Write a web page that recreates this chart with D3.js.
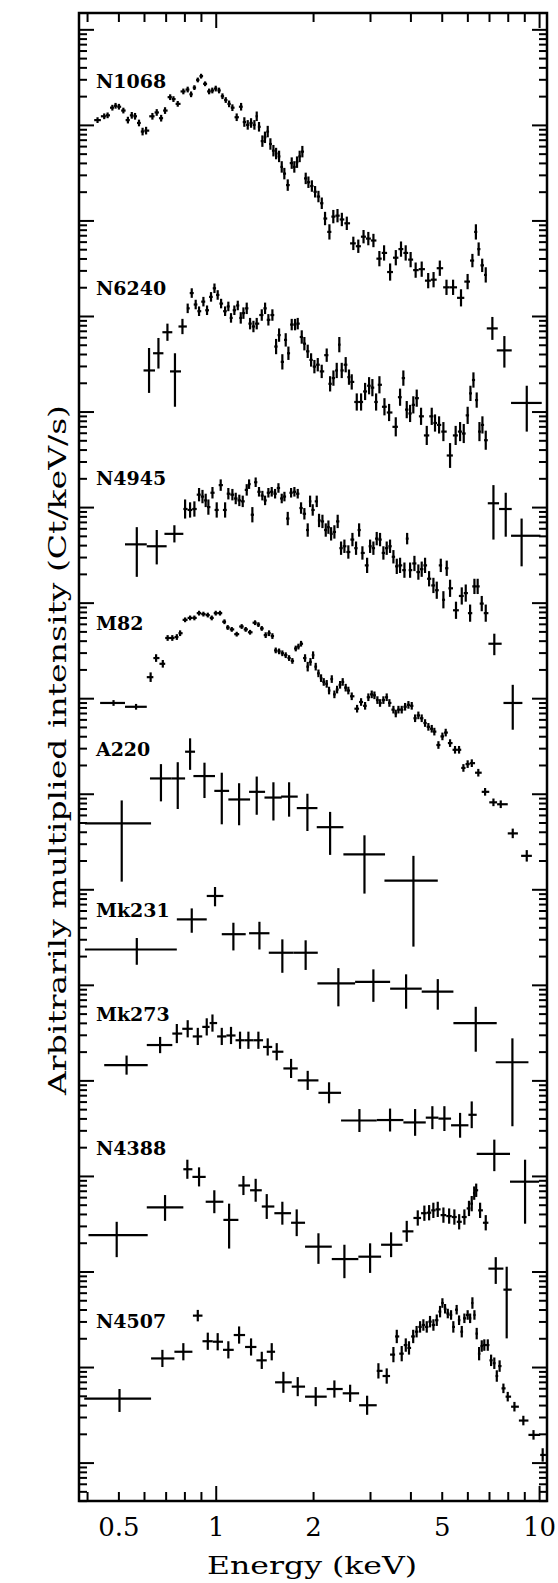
<!DOCTYPE html>
<meta charset="utf-8">
<script src="https://d3js.org/d3.v7.min.js"></script>
<style>
body { margin: 0; background: #fff; }
svg { display: block; }
text { font-family: 'DejaVu Serif', serif; fill: #000; }
.tick line { stroke: #000; stroke-width: 2px; }
.bars line { stroke: #000; stroke-width: 2.2px; }
</style>
<body>
<div id="chart"></div>
<script>

// each row: [energy keV, log10 intensity, err up (dex), err down (dex), bin lo, bin hi]
// rows with 3 entries: symmetric error, bin edges taken half way to the neighbours
var n1068 = [
  [0.431,15.05,0.03],[0.452,15.09,0.03],[0.463,15.10,0.03],[0.479,15.18,0.03],[0.490,15.20,0.03],
  [0.502,15.19,0.03],[0.518,15.15,0.03],[0.535,15.05,0.035],[0.550,15.10,0.035],[0.563,15.09,0.035],
  [0.579,15.02,0.035],[0.594,14.93,0.04],[0.609,14.94,0.04],[0.637,15.09,0.035],[0.657,15.13,0.035],
  [0.678,15.07,0.035],[0.697,15.15,0.035],[0.723,15.29,0.03],[0.740,15.27,0.03],[0.763,15.22,0.03],
  [0.794,15.35,0.03],[0.819,15.37,0.03],[0.839,15.32,0.03],[0.859,15.39,0.025],[0.880,15.47,0.025],
  [0.901,15.51,0.025],[0.927,15.43,0.025],[0.954,15.35,0.03],[0.976,15.36,0.03],[1.000,15.38,0.03],
  [1.024,15.36,0.03],[1.049,15.30,0.03],[1.074,15.26,0.03],[1.100,15.22,0.035],[1.126,15.18,0.035],
  [1.161,15.08,0.04],[1.198,15.19,0.04],[1.226,15.03,0.05],[1.256,15.00,0.05],[1.286,15.02,0.05],
  [1.317,15.00,0.05],[1.339,15.09,0.05],[1.361,14.98,0.05],[1.394,14.83,0.06],[1.420,14.87,0.06],
  [1.448,14.93,0.06],[1.476,14.80,0.06],[1.508,14.73,0.06],[1.537,14.70,0.06],[1.570,14.67,0.06],
  [1.600,14.56,0.06],[1.630,14.49,0.06],[1.670,14.37,0.06],[1.718,14.60,0.06],[1.750,14.56,0.06],
  [1.784,14.61,0.06],[1.818,14.67,0.06],[1.853,14.72,0.06],[1.898,14.44,0.06],[1.935,14.40,0.06],
  [1.983,14.36,0.06],[2.029,14.30,0.06],[2.078,14.25,0.06],[2.128,14.18,0.06],[2.178,14.02,0.07],
  [2.247,13.88,0.08],[2.310,14.04,0.07],[2.380,14.05,0.07],[2.455,14.01,0.07],[2.543,13.97,0.07],
  [2.664,13.76,0.07],[2.760,13.73,0.07],[2.865,13.83,0.07],[2.964,13.81,0.07],[3.074,13.79,0.07],
  [3.207,13.60,0.08],[3.316,13.66,0.08],[3.462,13.46,0.09],[3.605,13.61,0.08],[3.741,13.70,0.08],
  [3.868,13.66,0.08],[4.006,13.59,0.08],[4.152,13.48,0.08],[4.335,13.49,0.08],[4.540,13.37,0.08],
  [4.717,13.38,0.08],[4.932,13.50,0.08],[5.172,13.30,0.08],[5.420,13.30,0.08],[5.735,13.19,0.09],
  [6.011,13.36,0.08],[6.220,13.58,0.07],[6.376,13.88,0.08],[6.503,13.70,0.07],[6.669,13.53,0.07],
  [6.84,13.43,0.08],
  [7.17,12.87,0.12,0.12,6.89,7.45],[7.81,12.64,0.15,0.18,7.40,8.23],[9.16,12.09,0.18,0.30,8.19,10.19]
];

var n6240 = [
  [0.622,12.43,0.235,0.235,0.598,0.649],[0.665,12.61,0.16,0.16,0.640,0.689],
  [0.709,12.83,0.09,0.09,0.684,0.734],[0.748,12.42,0.19,0.37,0.722,0.781],
  [0.789,12.89,0.08,0.08,0.767,0.814],
  [0.819,13.08,0.05],[0.843,13.24,0.05],[0.867,13.12,0.05],[0.888,13.05,0.05],[0.916,13.15,0.05],
  [0.940,13.06,0.05],[0.967,13.20,0.05],[0.991,13.29,0.05],[1.014,13.22,0.05],[1.039,13.13,0.05],
  [1.069,13.05,0.05],[1.094,13.10,0.05],[1.115,12.98,0.05],[1.142,13.06,0.05],[1.170,13.11,0.05],
  [1.195,12.98,0.06],[1.218,13.03,0.06],[1.247,13.08,0.06],[1.277,12.92,0.06],[1.308,12.89,0.06],
  [1.339,12.92,0.06],[1.388,13.01,0.06],[1.421,13.08,0.06],[1.455,12.96,0.06],[1.497,13.01,0.06],
  [1.537,12.68,0.08],[1.570,12.80,0.07],[1.607,12.52,0.08],[1.646,12.75,0.07],[1.678,12.61,0.07],
  [1.718,12.91,0.06],[1.759,12.91,0.06],[1.793,12.92,0.06],[1.845,12.78,0.07],[1.880,12.71,0.07],
  [1.925,12.63,0.07],[1.972,12.54,0.07],[2.019,12.47,0.07],[2.068,12.49,0.07],[2.127,12.42,0.07],
  [2.204,12.59,0.07],[2.258,12.29,0.08],[2.312,12.35,0.08],[2.367,12.43,0.08],[2.411,12.70,0.08],
  [2.453,12.43,0.08],[2.523,12.49,0.08],[2.583,12.36,0.08],[2.634,12.31,0.08],[2.730,12.10,0.09],
  [2.815,12.10,0.09],[2.897,12.21,0.09],[2.980,12.27,0.09],[3.051,12.25,0.09],[3.133,12.10,0.09],
  [3.208,12.28,0.09],[3.325,12.05,0.09],[3.437,11.99,0.09],[3.604,11.84,0.10],[3.716,12.15,0.09],
  [3.804,12.35,0.08],[3.897,12.02,0.09],[3.991,11.98,0.09],[4.084,12.07,0.09],[4.184,12.14,0.09],
  [4.315,11.95,0.09],[4.494,11.75,0.10],[4.656,11.95,0.09],[4.766,11.88,0.09],[4.906,11.86,0.09],
  [5.059,11.79,0.10],[5.305,11.54,0.13],[5.521,11.75,0.10],[5.697,11.79,0.10],[5.848,11.77,0.10],
  [6.013,11.96,0.09],[6.134,12.19,0.08],[6.266,12.33,0.08],[6.413,12.12,0.08],[6.540,11.79,0.10],
  [6.680,11.86,0.09],[6.840,11.70,0.10],
  [7.225,11.04,0.19,0.38,6.94,7.52],[7.886,10.98,0.17,0.29,7.52,8.23],[8.83,10.70,0.18,0.32,8.19,10.10]
];

var n4945 = [
  [0.570,10.61,0.18,0.34,0.524,0.612],[0.657,10.59,0.17,0.19,0.612,0.705],
  [0.745,10.72,0.09,0.09,0.694,0.794],
  [0.804,10.98,0.10],[0.833,10.97,0.08],[0.859,10.98,0.08],[0.888,11.13,0.07],[0.910,11.11,0.07],
  [0.931,11.07,0.07],[0.949,11.00,0.08],[0.977,11.15,0.06],[1.007,10.97,0.08],[1.036,11.23,0.06],
  [1.069,10.97,0.08],[1.094,11.14,0.06],[1.126,11.13,0.06],[1.153,11.09,0.06],[1.183,11.07,0.06],
  [1.212,11.06,0.06],[1.247,11.18,0.06],[1.268,11.24,0.05],[1.298,10.92,0.08],[1.329,11.26,0.05],
  [1.361,11.16,0.05],[1.394,11.12,0.05],[1.421,11.07,0.05],[1.455,11.15,0.05],[1.490,11.16,0.05],
  [1.526,11.14,0.05],[1.563,11.20,0.05],[1.600,11.09,0.05],[1.631,11.11,0.05],[1.670,10.88,0.07],
  [1.710,11.15,0.05],[1.751,11.16,0.05],[1.793,11.14,0.05],[1.836,10.99,0.06],[1.880,10.93,0.06],
  [1.925,10.76,0.07],[1.958,11.06,0.06],[1.995,10.97,0.06],[2.053,11.06,0.06],[2.087,10.86,0.07],
  [2.138,10.85,0.07],[2.189,10.76,0.07],[2.231,10.79,0.07],[2.274,10.72,0.07],[2.328,10.74,0.07],
  [2.383,10.85,0.07],[2.441,10.57,0.07],[2.500,10.59,0.07],[2.571,10.53,0.07],[2.647,10.66,0.07],
  [2.716,10.57,0.07],[2.776,10.76,0.07],[2.842,10.52,0.07],[2.939,10.39,0.08],[3.002,10.59,0.07],
  [3.073,10.57,0.07],[3.147,10.67,0.07],[3.222,10.66,0.07],[3.300,10.52,0.07],[3.379,10.57,0.07],
  [3.460,10.59,0.07],[3.544,10.48,0.07],[3.630,10.38,0.08],[3.716,10.39,0.08],[3.833,10.34,0.08],
  [3.908,10.67,0.06],[3.991,10.34,0.08],[4.116,10.41,0.08],[4.233,10.32,0.08],[4.335,10.35,0.08],
  [4.440,10.39,0.08],[4.569,10.25,0.08],[4.712,10.18,0.08],[4.826,10.13,0.09],[4.966,10.39,0.07],
  [5.059,10.03,0.09],[5.181,10.36,0.08],[5.305,10.15,0.09],[5.534,9.92,0.09],[5.766,10.07,0.09],
  [5.932,10.10,0.09],[6.119,9.89,0.09],[6.310,10.17,0.08],[6.457,10.17,0.08],[6.648,9.99,0.08],
  [6.840,9.89,0.09],
  [7.27,9.57,0.105,0.12,6.97,7.66],[8.29,8.95,0.19,0.28,7.76,8.88]
];

var m82 = [
  [0.483,8.95,0.03,0.03,0.439,0.524],[0.567,8.91,0.03,0.03,0.524,0.612],
  [0.629,9.22,0.05],[0.654,9.42,0.04],[0.686,9.36,0.04],[0.710,9.63,0.03],[0.734,9.63,0.03],
  [0.758,9.64,0.03],[0.776,9.68,0.03],[0.804,9.82,0.025],[0.833,9.84,0.025],[0.859,9.84,0.025],
  [0.888,9.89,0.025],[0.916,9.88,0.025],[0.945,9.87,0.025],[0.972,9.84,0.025],[1.000,9.89,0.025],
  [1.031,9.89,0.025],[1.064,9.80,0.025],[1.089,9.74,0.025],[1.121,9.72,0.025],[1.161,9.67,0.025],
  [1.203,9.75,0.025],[1.238,9.72,0.025],[1.277,9.69,0.025],[1.323,9.79,0.025],[1.355,9.77,0.025],
  [1.388,9.73,0.025],[1.427,9.66,0.03],[1.462,9.68,0.03],[1.497,9.65,0.03],[1.533,9.50,0.03],
  [1.570,9.49,0.03],[1.607,9.47,0.03],[1.646,9.45,0.03],[1.686,9.42,0.03],[1.726,9.39,0.03],
  [1.768,9.52,0.03],[1.802,9.54,0.03],[1.836,9.57,0.03],[1.889,9.42,0.04],[1.925,9.33,0.05],
  [1.963,9.38,0.04],[2.000,9.45,0.04],[2.038,9.33,0.04],[2.078,9.26,0.04],[2.117,9.21,0.04],
  [2.158,9.17,0.04],[2.204,9.15,0.04],[2.241,9.08,0.04],[2.285,9.20,0.04],[2.328,9.04,0.04],
  [2.373,9.09,0.04],[2.424,9.14,0.04],[2.470,9.17,0.04],[2.523,9.11,0.04],[2.571,9.08,0.04],
  [2.634,9.02,0.04],[2.736,8.89,0.04],[2.815,8.96,0.04],[2.897,8.92,0.04],[2.965,9.01,0.04],
  [3.037,9.04,0.04],[3.096,9.03,0.04],[3.162,8.98,0.04],[3.222,8.95,0.04],[3.300,8.98,0.04],
  [3.379,9.01,0.04],[3.444,8.95,0.04],[3.544,8.88,0.04],[3.604,8.84,0.04],[3.673,8.88,0.04],
  [3.760,8.88,0.04],[3.851,8.91,0.04],[3.944,8.93,0.04],[4.038,8.92,0.04],[4.136,8.79,0.04],
  [4.233,8.82,0.04],[4.335,8.79,0.04],[4.440,8.74,0.04],[4.546,8.70,0.04],[4.656,8.68,0.04],
  [4.743,8.65,0.04],[4.883,8.51,0.04],[5.024,8.60,0.04],[5.143,8.64,0.04],[5.305,8.53,0.04],
  [5.496,8.46,0.04],[5.656,8.46,0.04],[5.834,8.27,0.04],[6.013,8.31,0.04],[6.193,8.32,0.04],
  [6.487,8.22,0.04],[6.808,8.02,0.04],[7.225,7.91,0.04],[7.611,7.89,0.04],
  [8.29,7.585,0.05,0.05,8.0,8.6],[9.16,7.35,0.06,0.06,8.8,9.5]
];

var a220 = [
  [0.512,7.69,0.24,0.61,0.394,0.631],[0.677,8.16,0.15,0.24,0.626,0.731],
  [0.763,8.16,0.17,0.32,0.731,0.804],[0.833,8.44,0.14,0.19,0.804,0.863],
  [0.923,8.185,0.14,0.23,0.853,0.995],[1.044,8.03,0.19,0.35,0.990,1.100],
  [1.181,7.94,0.17,0.27,1.094,1.277],[1.339,8.02,0.16,0.24,1.268,1.421],
  [1.508,7.96,0.16,0.24,1.415,1.600],[1.686,7.97,0.15,0.21,1.593,1.793],
  [1.921,7.85,0.15,0.24,1.781,2.063],[2.258,7.65,0.16,0.29,2.053,2.482],
  [2.884,7.365,0.20,0.41,2.482,3.339],[4.087,7.09,0.26,0.69,3.325,4.861]
];

var mk231 = [
  [0.570,6.37,0.12,0.16,0.394,0.758],[0.843,6.685,0.115,0.14,0.758,0.938],
  [0.995,6.93,0.094,0.108,0.938,1.056],[1.134,6.53,0.12,0.17,1.044,1.238],
  [1.365,6.54,0.12,0.17,1.268,1.466],[1.607,6.336,0.14,0.21,1.459,1.738],
  [1.897,6.336,0.13,0.18,1.738,2.068],[2.395,6.015,0.16,0.24,2.063,2.698],
  [3.073,6.032,0.13,0.21,2.698,3.462],[3.879,5.96,0.15,0.21,3.462,4.335],
  [4.861,5.93,0.13,0.19,4.335,5.433],[6.37,5.60,0.17,0.30,5.433,7.396],
  [8.27,5.19,0.25,0.67,7.345,9.27]
];

var mk273 = [
  [0.530,5.16,0.10,0.10,0.452,0.616],[0.673,5.37,0.085,0.085,0.612,0.734],
  [0.758,5.49,0.10],[0.819,5.54,0.09],[0.880,5.46,0.09],[0.938,5.56,0.09],[0.977,5.60,0.09],
  [1.044,5.46,0.09],[1.115,5.47,0.09],[1.189,5.42,0.09],[1.262,5.42,0.09],[1.355,5.42,0.09],
  [1.448,5.35,0.09],[1.544,5.30,0.09],
  [1.710,5.125,0.10,0.10,1.619,1.793],[1.925,5.00,0.10,0.10,1.793,2.078],
  [2.241,4.87,0.11,0.11,2.078,2.441],[2.782,4.58,0.12,0.12,2.441,3.147],
  [3.460,4.585,0.12,0.12,3.147,3.805],[4.136,4.56,0.14,0.14,3.805,4.462],
  [4.677,4.61,0.12,0.12,4.462,4.883],[5.095,4.60,0.13,0.13,4.883,5.343],
  [5.697,4.53,0.13,0.13,5.343,6.046],[6.19,4.64,0.14,0.14,6.046,6.413],
  [7.27,4.23,0.15,0.18,6.413,8.13],[9.05,3.94,0.23,0.44,8.13,10.0]
];

var n4388 = [
  [0.494,3.38,0.14,0.23,0.404,0.616],[0.697,3.67,0.13,0.14,0.612,0.794],
  [0.817,4.07,0.10,0.10,0.794,0.847],[0.888,3.99,0.10,0.10,0.847,0.931],
  [0.990,3.73,0.12,0.12,0.931,1.056],[1.100,3.54,0.17,0.30,1.056,1.175],
  [1.218,3.90,0.10,0.10,1.175,1.277],[1.329,3.85,0.12,0.12,1.277,1.388],
  [1.438,3.68,0.13,0.13,1.388,1.518],[1.607,3.61,0.12,0.12,1.518,1.710],
  [1.780,3.51,0.14,0.14,1.710,1.889],[2.078,3.26,0.14,0.18,1.889,2.285],
  [2.500,3.13,0.15,0.20,2.285,2.761],[3.002,3.155,0.14,0.17,2.761,3.246],
  [3.486,3.28,0.13,0.13,3.246,3.779],[3.897,3.42,0.11,0.11,3.779,4.087],
  [4.215,3.56,0.08],[4.418,3.61,0.08],[4.570,3.615,0.08],[4.710,3.64,0.08],[4.860,3.65,0.08],
  [5.060,3.59,0.08],[5.270,3.58,0.08],[5.470,3.57,0.08],[5.660,3.52,0.08],[5.875,3.57,0.08],
  [6.070,3.66,0.08],[6.190,3.71,0.08],[6.300,3.82,0.07],[6.390,3.85,0.07],[6.570,3.64,0.08],
  [6.840,3.51,0.08],
  [7.345,3.03,0.12,0.16,6.97,7.757],[7.94,2.81,0.24,0.51,7.757,8.23]
];

var n4507 = [
  [0.504,1.67,0.10,0.14,0.392,0.631],[0.684,2.09,0.09,0.09,0.631,0.745],
  [0.794,2.16,0.09,0.09,0.745,0.847],[0.880,2.538,0.06,0.06,0.850,0.910],
  [0.945,2.27,0.09],[1.014,2.265,0.09],[1.094,2.18,0.09],[1.181,2.335,0.09],[1.286,2.21,0.09],
  [1.388,2.07,0.09],[1.490,2.16,0.09],
  [1.619,1.84,0.11,0.11,1.526,1.718],[1.793,1.795,0.10,0.10,1.718,1.889],
  [2.038,1.69,0.10,0.10,1.889,2.204],[2.328,1.77,0.09,0.09,2.204,2.470],
  [2.604,1.725,0.09,0.09,2.470,2.776],[2.939,1.60,0.10,0.10,2.776,3.147],
  [3.185,1.96,0.08],[3.379,1.906,0.08],[3.544,2.13,0.08],[3.630,2.32,0.07],[3.760,2.14,0.08],
  [3.870,2.23,0.07],[3.960,2.20,0.07],[4.080,2.32,0.07],[4.180,2.37,0.06],[4.285,2.42,0.06],
  [4.387,2.44,0.06],[4.494,2.42,0.06],[4.600,2.475,0.06],[4.712,2.44,0.06],[4.826,2.49,0.06],
  [4.940,2.58,0.06],[5.024,2.67,0.05],[5.120,2.61,0.05],[5.220,2.56,0.05],[5.343,2.545,0.05],
  [5.430,2.42,0.06],[5.560,2.60,0.05],[5.656,2.49,0.05],[5.766,2.37,0.06],[5.875,2.51,0.05],
  [6.013,2.545,0.05],[6.120,2.51,0.05],[6.220,2.67,0.06],[6.310,2.545,0.05],[6.413,2.35,0.06],
  [6.525,2.14,0.07],[6.648,2.22,0.06],[6.770,2.23,0.06],[6.940,2.23,0.06],[7.105,2.07,0.06],
  [7.270,2.04,0.06],[7.400,1.906,0.06],[7.550,2.01,0.06],[7.757,1.777,0.05],[8.000,1.69,0.05],
  [8.390,1.585,0.05],[8.940,1.44,0.05],[9.610,1.29,0.05],
  [10.26,1.08,0.07,0.07,10.08,10.5]
];

var spectra = [n1068, n6240, n4945, m82, a220, mk231, mk273, n4388, n4507];
var names = ["N1068", "N6240", "N4945", "M82", "A220", "Mk231", "Mk273", "N4388", "N4507"];
var labelLv = [15.39, 13.22, 11.23, 9.71, 8.40, 6.71, 5.62, 4.22, 2.405];
var labelE = 0.426;

var xTickLabels = [0.5, 1, 2, 5, 10];
var xMajor = [1, 10];
var xMinor = [0.4, 0.5, 0.6, 0.7, 0.8, 0.9, 2, 3, 4, 5, 6, 7, 8, 9];

// set the dimensions and margins of the graph
var margin = {top: 13, right: 11, bottom: 82, left: 79},
    width = 558 - margin.left - margin.right,
    height = 1583 - margin.top - margin.bottom;

var svg = d3.select("#chart")
  .append("svg")
    .attr("width", width + margin.left + margin.right)
    .attr("height", height + margin.top + margin.bottom)
  .append("g")
    .attr("transform", "translate(" + margin.left + "," + margin.top + ")");

var x = d3.scaleLog().domain([0.3777, 10.58]).range([0, width]);
var y = d3.scaleLog().domain([Math.pow(10, 0.598), Math.pow(10, 16.171)]).range([height, 0]);
var yv = function(lv) { return y(Math.pow(10, lv)); };

// decade and sub-decade ticks on the intensity axis
var yMajor = d3.range(1, 17).map(function(k) { return Math.pow(10, k); });
var yMinor = [];
d3.range(0, 17).forEach(function(k) {
  d3.range(2, 10).forEach(function(m) {
    var v = m * Math.pow(10, k);
    if (v > y.domain()[0] && v < y.domain()[1]) yMinor.push(v);
  });
});

function ticks(axis, tr) {
  svg.append("g")
    .attr("transform", tr)
    .call(axis.tickFormat(""))
    .call(function(g) { g.select(".domain").remove(); });
}
ticks(d3.axisLeft(y).tickValues(yMajor).tickSize(-15), "translate(0,0)");
ticks(d3.axisLeft(y).tickValues(yMinor).tickSize(-8), "translate(0,0)");
ticks(d3.axisRight(y).tickValues(yMajor).tickSize(-15), "translate(" + width + ",0)");
ticks(d3.axisRight(y).tickValues(yMinor).tickSize(-8), "translate(" + width + ",0)");
ticks(d3.axisBottom(x).tickValues(xMajor).tickSize(-15), "translate(0," + height + ")");
ticks(d3.axisBottom(x).tickValues(xMinor).tickSize(-9), "translate(0," + height + ")");
ticks(d3.axisTop(x).tickValues(xMajor).tickSize(-15), "translate(0,0)");
ticks(d3.axisTop(x).tickValues(xMinor).tickSize(-9), "translate(0,0)");

// tick labels
svg.append("g")
  .attr("transform", "translate(0," + height + ")")
  .call(d3.axisBottom(x).tickValues(xTickLabels).tickSize(0).tickPadding(17).tickFormat(d3.format("")))
  .call(function(g) { g.select(".domain").remove(); })
  .selectAll("text")
    .style("font-family", "'DejaVu Serif', serif")
    .style("font-size", "26px");

// frame
svg.append("rect")
  .attr("width", width)
  .attr("height", height)
  .attr("fill", "none")
  .attr("stroke", "#000")
  .attr("stroke-width", 2.5);

svg.append("clipPath").attr("id", "plotclip")
  .append("rect").attr("width", width).attr("height", height);

// error crosses
var bars = svg.append("g").attr("class", "bars").attr("clip-path", "url(#plotclip)");

spectra.forEach(function(rows) {
  var pts = rows.map(function(r, i) {
    var p = rows[i - 1], n = rows[i + 1];
    var lo = r.length > 4 ? r[4] : (p ? (p.length > 4 ? p[5] : Math.sqrt(p[0] * r[0])) : null);
    var hi = r.length > 4 ? r[5] : (n ? (n.length > 4 ? n[4] : Math.sqrt(n[0] * r[0])) : null);
    if (lo == null) lo = r[0] * r[0] / hi;
    if (hi == null) hi = r[0] * r[0] / lo;
    var up = r[2], dn = r.length > 3 ? r[3] : r[2];
    return {lv: r[1], lo: lo, hi: hi, e: r[0], up: r[1] + up, dn: r[1] - dn};
  });

  var g = bars.append("g");
  g.selectAll(".h")
    .data(pts)
    .enter()
    .append("line")
      .attr("x1", function(d) { return x(d.lo); })
      .attr("x2", function(d) { return x(d.hi); })
      .attr("y1", function(d) { return yv(d.lv); })
      .attr("y2", function(d) { return yv(d.lv); });
  g.selectAll(".v")
    .data(pts)
    .enter()
    .append("line")
      .attr("x1", function(d) { return x(d.e); })
      .attr("x2", function(d) { return x(d.e); })
      .attr("y1", function(d) { return yv(d.up); })
      .attr("y2", function(d) { return yv(d.dn); });
});

// source names
svg.append("g")
  .selectAll("text")
  .data(names)
  .enter()
  .append("text")
    .attr("x", x(labelE))
    .attr("y", function(d, i) { return yv(labelLv[i]); })
    .style("font-size", "19px")
    .style("font-weight", "bold")
    .text(function(d) { return d; });

// axis titles
svg.append("text")
  .attr("transform", "translate(" + (width / 2 - 1) + "," + (height + 73) + ")")
  .attr("text-anchor", "middle")
  .attr("textLength", 210)
  .attr("lengthAdjust", "spacingAndGlyphs")
  .style("font-size", "24px")
  .text("Energy (keV)");

svg.append("text")
  .attr("transform", "translate(-13," + (height / 2 - 7) + ")rotate(-90)")
  .attr("text-anchor", "middle")
  .attr("textLength", 690)
  .attr("lengthAdjust", "spacingAndGlyphs")
  .style("font-size", "24px")
  .text("Arbitrarily multiplied intensity (Ct/keV/s)");

</script>
</body>
